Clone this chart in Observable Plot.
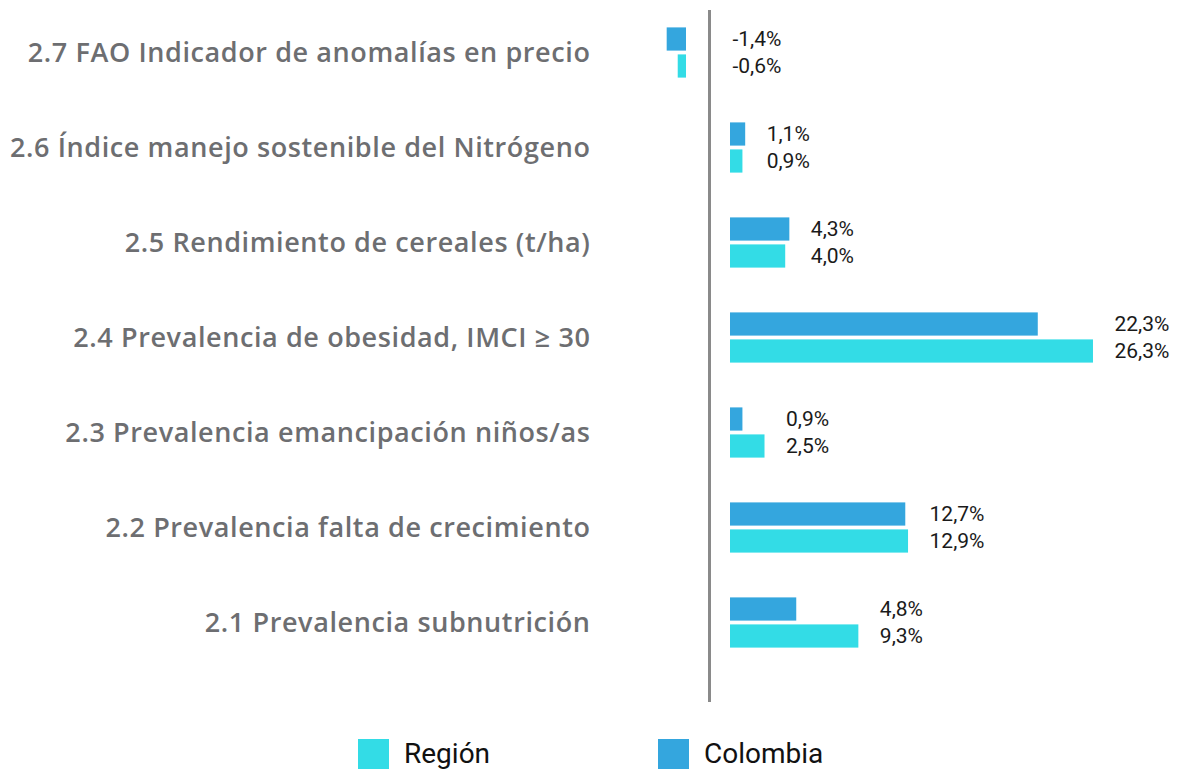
<!DOCTYPE html>
<html>
<head>
<meta charset="utf-8">
<script src="https://cdn.jsdelivr.net/npm/d3@7"></script>
<script src="https://cdn.jsdelivr.net/npm/@observablehq/plot@0.6"></script>
<style>
  html, body { margin: 0; padding: 0; background: #fff; overflow: hidden; }
  body { font-family: Roboto, "Noto Sans", sans-serif; width: 1181px; height: 769px; }
  #chart svg { display: block; }
  #legend { position: relative; width: 1181px; height: 67px; }
  .lg-item { position: absolute; top: 37px; height: 30px; display: flex; align-items: center; }
  .lg-swatch { width: 31px; height: 30px; margin-right: 15px; }
  .lg-text { font-size: 28px; color: #111; font-family: Roboto, sans-serif; line-height: 30px; }
  g[aria-label="y-axis tick label"] text { letter-spacing: 0.6px; }
</style>
</head>
<body>
<div id="chart"></div>
<div id="legend"></div>
<script>
// ---- data ----
const categories = [
  "2.7 FAO Indicador de anomalías en precio",
  "2.6 Índice manejo sostenible del Nitrógeno",
  "2.5 Rendimiento de cereales (t/ha)",
  "2.4 Prevalencia de obesidad, IMCI ≥ 30",
  "2.3 Prevalencia emancipación niños/as",
  "2.2 Prevalencia falta de crecimiento",
  "2.1 Prevalencia subnutrición"
];
const colombia = [-1.4, 1.1, 4.3, 22.3, 0.9, 12.7, 4.8];
const region   = [-0.6, 0.9, 4.0, 26.3, 2.5, 12.9, 9.3];
const seriesNames = ["Colombia", "Región"];
const seriesColors = ["#34a6de", "#33dce6"];
const legendOrder = ["Región", "Colombia"];

// ---- table ----
const rows = [];
categories.forEach((cat, i) => {
  const groupMax = Math.max(0, colombia[i], region[i]);
  const groupNeg = colombia[i] < 0 && region[i] < 0;
  rows.push({cat, series: "Colombia", value: colombia[i], groupMax, groupNeg});
  rows.push({cat, series: "Región", value: region[i], groupMax, groupNeg});
});
const fmt = v => v.toFixed(1).replace(".", ",") + "%";

const insets = {
  "Colombia": {insetTop: 22.4, insetBottom: 49.4, dy: -13.5},
  "Región":   {insetTop: 49.4, insetBottom: 22.4, dy: 13.5}
};

const marks = [
  Plot.ruleX([0], {stroke: "#8a8a8a", strokeWidth: 3})
];
seriesNames.forEach((s, si) => {
  const pos = rows.filter(d => d.series === s && d.value >= 0);
  const neg = rows.filter(d => d.series === s && d.value < 0);
  marks.push(Plot.barX(pos, {x: "value", y: "cat", fill: seriesColors[si],
    insetTop: insets[s].insetTop, insetBottom: insets[s].insetBottom, dx: 21}));
  marks.push(Plot.barX(neg, {x: "value", y: "cat", fill: seriesColors[si],
    insetTop: insets[s].insetTop, insetBottom: insets[s].insetBottom, dx: -23}));
  marks.push(Plot.text(rows.filter(d => d.series === s && !d.groupNeg), {
    x: "groupMax", y: "cat", text: d => fmt(d.value), textAnchor: "start",
    dx: 42, dy: insets[s].dy, fontSize: 21, fill: "#1a1a1a"}));
  marks.push(Plot.text(rows.filter(d => d.series === s && d.groupNeg), {
    x: () => 0, y: "cat", text: d => fmt(d.value), textAnchor: "start",
    dx: 23, dy: insets[s].dy, fontSize: 21, fill: "#1a1a1a"}));
});
marks.push(Plot.axisY({tickSize: 0, tickPadding: 50, fontSize: 27, fontWeight: 600,
  fontFamily: "'Open Sans', sans-serif", fill: "#6d6e71", label: null}));

const chart = Plot.plot({
  width: 1181,
  height: 702,
  marginLeft: 640,
  marginRight: 0,
  marginTop: 10,
  marginBottom: 0,
  style: {fontFamily: "Roboto, sans-serif", background: "#fff"},
  x: {domain: [-5, 34.2], axis: null},
  y: {domain: categories, range: [2.1, 672.9], padding: 0, axis: null},
  marks
});
document.getElementById("chart").appendChild(chart);

// ---- legend ----
const legend = document.getElementById("legend");
const legendLeft = {"Región": 358, "Colombia": 658};
legendOrder.forEach(name => {
  const item = document.createElement("div");
  item.className = "lg-item";
  item.style.left = legendLeft[name] + "px";
  const sw = document.createElement("div");
  sw.className = "lg-swatch";
  sw.style.background = seriesColors[seriesNames.indexOf(name)];
  const tx = document.createElement("span");
  tx.className = "lg-text";
  tx.textContent = name;
  item.appendChild(sw); item.appendChild(tx);
  legend.appendChild(item);
});
</script>
</body>
</html>
